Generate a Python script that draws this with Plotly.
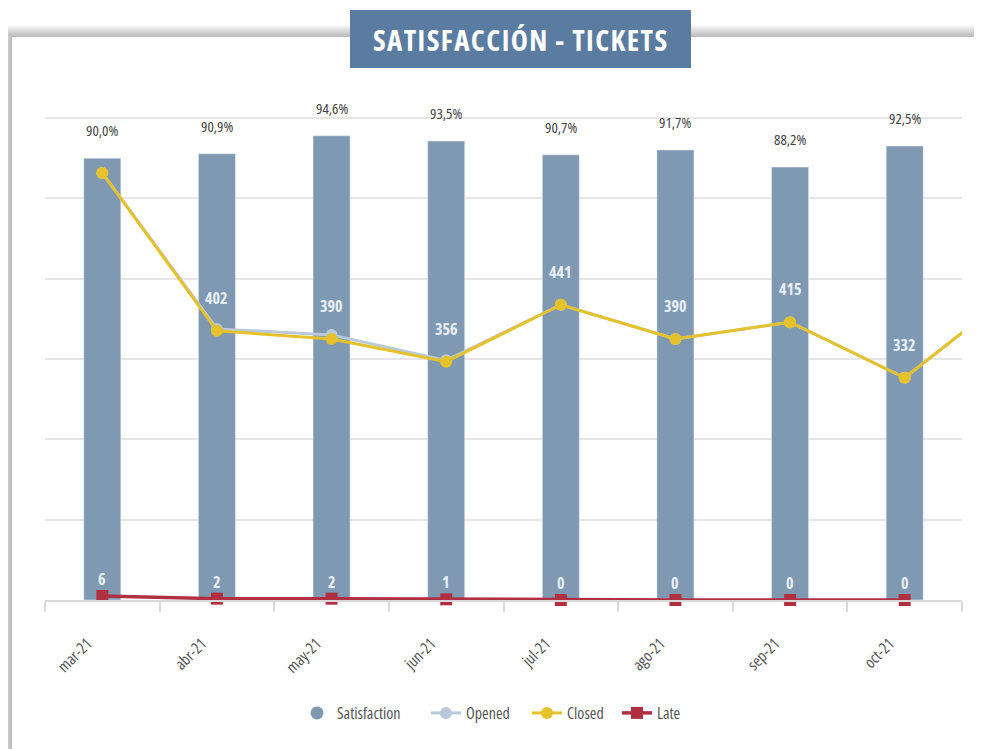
import plotly.graph_objects as go

# ---------------- data ----------------
months = ["mar-21", "abr-21", "may-21", "jun-21", "jul-21", "ago-21", "sep-21", "oct-21"]
months_line = months + ["nov-21"]
satisfaction = [90.0, 90.9, 94.6, 93.5, 90.7, 91.7, 88.2, 92.5]
opened = [638, 405, 396, 358, 441, 390, 415, 332, 466]
closed = [638, 402, 390, 356, 441, 390, 415, 332, 466]
late = [6, 2, 2, 1, 0, 0, 0, 0]
series_names = ["Satisfaction", "Opened", "Closed", "Late"]
title_text = "SATISFACCIÓN - TICKETS"

# ---------------- style ----------------
OFF = 8                      # page body margin offset
W, H = 982 - OFF, 749 - OFF  # figure size
# plot area in reference (page) pixels
L, R, T, B = 45, 962, 110, 600
BAR = "#7f99b2"
YEL = "#e5c229"
RED = "#b03042"
OPN = "#b9c9da"
TITLE_BG = "#5a7ca0"
TXT = "#555555"
FONT = "Open Sans, Liberation Sans Narrow, DejaVu Sans Condensed, sans-serif"

PX_PER_PCT = 4.908
PX_PER_TICKET = 482 / 720.0


def cond(s, stretch=75, spacing=None):
    st = f"font-stretch:{stretch}%"
    if spacing is not None:
        st += f";letter-spacing:{spacing}px"
    return f'<span style="{st}">{s}</span>'


def px(x):
    return (x - L) / (R - L)


def py(y):
    return (B - y) / (B - T)


fig = go.Figure()

fig.add_trace(go.Bar(
    x=months, y=satisfaction, marker_color=BAR, name=series_names[0],
    showlegend=False, yaxis="y", hoverinfo="skip",
))
# legend entry for bars (circle symbol as in reference)
fig.add_trace(go.Scatter(
    x=[None], y=[None], mode="markers", name=cond(series_names[0]), legend="legend",
    marker=dict(color=BAR, size=13, symbol="circle"),
))
fig.add_trace(go.Scatter(
    x=months_line, y=opened, mode="lines+markers", name=cond(series_names[1]), yaxis="y2",
    legend="legend2",
    line=dict(color=OPN, width=3), marker=dict(color=OPN, size=12),
))
fig.add_trace(go.Scatter(
    x=months_line, y=closed, mode="lines+markers", name=cond(series_names[2]), yaxis="y2",
    legend="legend3",
    line=dict(color=YEL, width=3), marker=dict(color=YEL, size=12),
))
fig.add_trace(go.Scatter(
    x=months, y=late, mode="lines+markers", name=cond(series_names[3]), yaxis="y2",
    legend="legend4", cliponaxis=False,
    line=dict(color=RED, width=3.5), marker=dict(color=RED, size=12, symbol="square"),
))

annotations = []
LBL = "#e9eff6"
# ticket labels (white bold) - first one falls on white background in the reference
for m, v in list(zip(months, closed))[1:]:
    annotations.append(dict(x=m, y=v, xref="x", yref="y2", yshift=33, showarrow=False,
                            text="<b>" + cond(str(v), 78) + "</b>",
                            font=dict(color=LBL, size=16, family=FONT)))
for m, v in zip(months, late):
    annotations.append(dict(x=m, y=v, xref="x", yref="y2", yshift=17, showarrow=False,
                            text="<b>" + cond(str(v), 78) + "</b>",
                            font=dict(color=LBL, size=16, family=FONT)))
# satisfaction labels
for m, v in zip(months, satisfaction):
    annotations.append(dict(x=m, y=v, xref="x", yref="y", yshift=28, showarrow=False,
                            text=cond(f"{v:.1f}".replace(".", ",") + "%"),
                            font=dict(color="#444444", size=15, family=FONT)))
# title
annotations.append(dict(x=px(520.5), y=py(39), xref="paper", yref="paper", showarrow=False,
                        xanchor="center", yanchor="middle",
                        text="<b>" + cond(title_text, 75, 1.4) + "</b>",
                        font=dict(color="white", size=29, family=FONT)))

shapes = []
# card shadow
for i in range(12, 0, -1):
    shapes.append(dict(type="rect", xref="paper", yref="paper", layer="below",
                       x0=px(12 - i), x1=px(1100), y0=py(800), y1=py(37 - i),
                       line=dict(width=0), fillcolor="rgba(0,0,0,0.022)"))
shapes.append(dict(type="rect", xref="paper", yref="paper", layer="below",
                   x0=px(12), x1=px(1100), y0=py(800), y1=py(37),
                   line=dict(width=0), fillcolor="white"))
shapes.append(dict(type="rect", xref="paper", yref="paper", layer="below",
                   x0=px(350), x1=px(691), y0=py(68), y1=py(10),
                   line=dict(width=0), fillcolor=TITLE_BG))

y1max = (B - T) / PX_PER_PCT
grid_top = 482 / PX_PER_PCT
y2max = (B - T) / PX_PER_TICKET

leg_common = dict(orientation="h", yanchor="middle", xanchor="left", y=py(713),
                  font=dict(size=16, color=TXT), itemwidth=30, bgcolor="rgba(0,0,0,0)")
text_starts = [339, 468, 569, 659]

fig.update_layout(
    width=W, height=H, autosize=False,
    margin=dict(l=L - OFF, r=W - (R - OFF), t=T - OFF, b=H - (B - OFF), pad=0),
    paper_bgcolor="white", plot_bgcolor="rgba(0,0,0,0)",
    font=dict(family=FONT, color=TXT, size=14),
    bargap=0.677,
    showlegend=True,
    legend=dict(x=px(text_starts[0] - 42), **leg_common),
    legend2=dict(x=px(text_starts[1] - 42), **leg_common),
    legend3=dict(x=px(text_starts[2] - 42), **leg_common),
    legend4=dict(x=px(text_starts[3] - 42), **leg_common),
    xaxis=dict(type="category", range=[-0.5, 7.5], categoryorder="array",
               categoryarray=months_line,
               tickvals=months, ticktext=[cond(m, 78) for m in months],
               showline=True, linecolor="#d9d9d9", linewidth=2,
               ticks="outside", tickson="boundaries", ticklen=10, tickwidth=2,
               tickcolor="#d9d9d9", tickangle=-45, showgrid=False,
               ticklabelstandoff=26, ticklabelshift=-15,
               tickfont=dict(size=16, color=TXT)),
    yaxis=dict(range=[0, y1max], tickvals=[grid_top * i / 6 for i in range(7)],
               showticklabels=False, gridcolor="#e6e6e6", gridwidth=1.5,
               zeroline=False, fixedrange=True),
    yaxis2=dict(range=[0, y2max], overlaying="y", showgrid=False, showticklabels=False,
                zeroline=False),
    annotations=annotations,
    shapes=shapes,
)

fig.write_html("out.html")
